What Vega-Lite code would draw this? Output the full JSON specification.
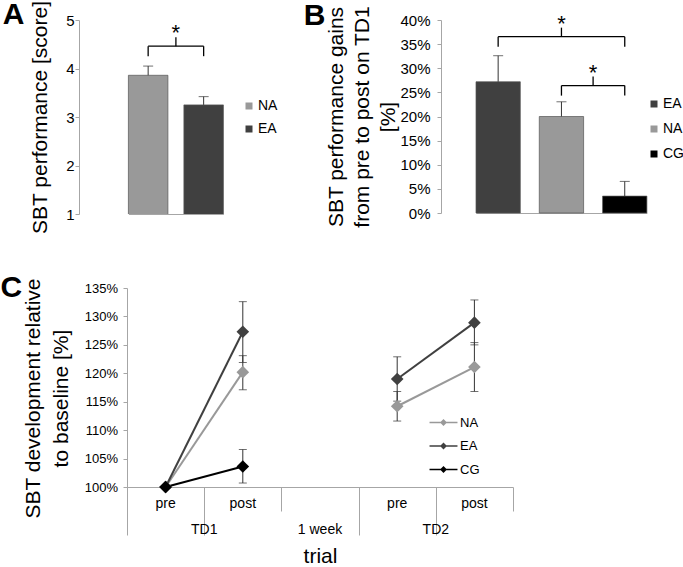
{
  "$schema": "https://vega.github.io/schema/vega-lite/v6.json",
  "background": "white",
  "padding": {"left": 0, "top": 0, "right": 0, "bottom": 0},
  "config": {
    "font": "Liberation Sans",
    "view": {"stroke": null},
    "axis": {"grid": false, "domainColor": "#a6a6a6", "tickColor": "#a6a6a6", "labelColor": "#000000", "titleColor": "#000000", "labelFont": "Liberation Sans", "titleFont": "Liberation Sans", "titleFontWeight": "normal"},
    "legend": {"labelFont": "Liberation Sans", "labelColor": "#000000", "padding": 0},
    "title": {"font": "Liberation Sans", "fontWeight": "bold", "fontSize": 30, "color": "#000000"},
    "text": {"font": "Liberation Sans"}
  },
  "datasets": {
    "scores": [
      {"group": "NA", "score": 3.86, "upper": 4.05},
      {"group": "EA", "score": 3.25, "upper": 3.42}
    ],
    "scoreSig": [
      {"id": "NA-EA", "from": "NA", "to": "EA", "y": 4.46, "label": "*"}
    ],
    "gains": [
      {"group": "EA", "gain": 27.2, "upper": 32.6},
      {"group": "NA", "gain": 20.0, "upper": 23.05},
      {"group": "CG", "gain": 3.5, "upper": 6.55}
    ],
    "gainSig": [
      {"id": "EA-CG", "from": "EA", "to": "CG", "y": 36.55, "label": "*"},
      {"id": "NA-CG", "from": "NA", "to": "CG", "y": 26.4, "label": "*"}
    ],
    "development": [
      {"group": "NA", "day": "TD1", "trial": "TD1 pre", "value": 100.0, "lower": null, "upper": null},
      {"group": "NA", "day": "TD1", "trial": "TD1 post", "value": 120.2, "lower": 117.1, "upper": 123.1},
      {"group": "NA", "day": "TD2", "trial": "TD2 pre", "value": 114.2, "lower": 111.6, "upper": 116.8},
      {"group": "NA", "day": "TD2", "trial": "TD2 post", "value": 121.1, "lower": 116.8, "upper": 125.4},
      {"group": "EA", "day": "TD1", "trial": "TD1 pre", "value": 100.0, "lower": null, "upper": null},
      {"group": "EA", "day": "TD1", "trial": "TD1 post", "value": 127.3, "lower": 121.9, "upper": 132.6},
      {"group": "EA", "day": "TD2", "trial": "TD2 pre", "value": 119.0, "lower": 115.1, "upper": 122.9},
      {"group": "EA", "day": "TD2", "trial": "TD2 post", "value": 128.9, "lower": 125.0, "upper": 132.9},
      {"group": "CG", "day": "TD1", "trial": "TD1 pre", "value": 100.0, "lower": null, "upper": null},
      {"group": "CG", "day": "TD1", "trial": "TD1 post", "value": 103.6, "lower": 100.7, "upper": 106.6}
    ]
  },
  "spacing": 38,
  "resolve": {"scale": {"x": "independent", "y": "independent", "color": "independent", "fill": "independent", "stroke": "independent"}, "legend": {"color": "independent", "fill": "independent"}},
  "vconcat": [
    {
      "spacing": 25,
      "resolve": {"scale": {"x": "independent", "y": "independent", "color": "independent"}, "legend": {"color": "independent"}},
      "hconcat": [
        {
          "width": 190,
          "height": 194,
          "title": {"text": "A", "orient": "left", "anchor": "end", "angle": 0, "align": "right", "baseline": "top", "frame": "bounds", "offset": -17},
          "resolve": {"axis": {"x": "independent", "y": "independent"}},
          "layer": [
            {
              "data": {"name": "scores"},
              "mark": {"type": "bar", "stroke": "#555555", "strokeWidth": 0.7, "clip": true},
              "encoding": {
                "x": {"field": "group", "type": "nominal", "scale": {"domain": ["NA", "EA"], "range": [49.4, 144.4], "paddingInner": 0.288, "paddingOuter": 0}, "axis": {"title": null, "labels": false, "ticks": false}},
                "y": {"field": "score", "type": "quantitative", "scale": {"domain": [1, 5], "nice": false, "zero": false}, "axis": {"title": "SBT performance [score]", "values": [1, 2, 3, 4, 5], "tickSize": 4, "labelPadding": 1, "labelFontSize": 15, "titleFontSize": 21, "titlePadding": 15.5}},
                "color": {"field": "group", "type": "nominal", "scale": {"domain": ["NA", "EA"], "range": ["#999999", "#404040"]}, "legend": {"title": null, "orient": "none", "legendX": 163, "legendY": 79, "symbolType": "square", "symbolSize": 49, "symbolStrokeWidth": 0, "labelFontSize": 14, "labelOffset": 2, "rowPadding": 9}}
              }
            },
            {
              "data": {"name": "scores"},
              "mark": {"type": "rule", "color": "#333333", "strokeWidth": 1},
              "encoding": {
                "x": {"field": "group", "type": "nominal", "axis": null},
                "y": {"field": "score", "type": "quantitative", "axis": null},
                "y2": {"field": "upper"}
              }
            },
            {
              "data": {"name": "scores"},
              "mark": {"type": "tick", "color": "#333333", "size": 10, "thickness": 1},
              "encoding": {
                "x": {"field": "group", "type": "nominal", "axis": null},
                "y": {"field": "upper", "type": "quantitative", "axis": null}
              }
            },
            {
              "data": {"name": "scoreSig"},
              "mark": {"type": "rule", "color": "#000000", "strokeWidth": 1.3},
              "encoding": {
                "x": {"field": "from", "type": "nominal", "axis": null},
                "x2": {"field": "to"},
                "y": {"field": "y", "type": "quantitative", "axis": null}
              }
            },
            {
              "data": {"name": "scoreSig"},
              "mark": {"type": "rule", "color": "#000000", "strokeWidth": 1.3, "y2Offset": 10},
              "encoding": {
                "x": {"field": "from", "type": "nominal", "axis": null},
                "y": {"field": "y", "type": "quantitative", "axis": null},
                "y2": {"field": "y"}
              }
            },
            {
              "data": {"name": "scoreSig"},
              "mark": {"type": "rule", "color": "#000000", "strokeWidth": 1.3, "y2Offset": 10},
              "encoding": {
                "x": {"field": "to", "type": "nominal", "axis": null},
                "y": {"field": "y", "type": "quantitative", "axis": null},
                "y2": {"field": "y"}
              }
            },
            {
              "data": {"name": "scoreSig"},
              "mark": {"type": "rule", "color": "#000000", "strokeWidth": 1.3, "xOffset": 27.75, "y2Offset": -9},
              "encoding": {
                "x": {"field": "from", "type": "nominal", "axis": null},
                "y": {"field": "y", "type": "quantitative", "axis": null},
                "y2": {"field": "y"}
              }
            },
            {
              "data": {"name": "scoreSig"},
              "mark": {"type": "text", "fontSize": 22, "baseline": "alphabetic", "xOffset": 27.75, "dy": -6, "color": "#000000"},
              "encoding": {
                "x": {"field": "from", "type": "nominal", "axis": null},
                "y": {"field": "y", "type": "quantitative", "axis": null},
                "text": {"field": "label"}
              }
            }
          ]
        },
        {
          "width": 233,
          "height": 193,
          "title": {"text": "B", "orient": "left", "anchor": "end", "angle": 0, "align": "right", "baseline": "top", "frame": "bounds", "offset": -21, "dy": -5},
          "resolve": {"axis": {"x": "independent", "y": "independent"}},
          "layer": [
            {
              "data": {"name": "gains"},
              "mark": {"type": "bar", "stroke": "#555555", "strokeWidth": 0.7},
              "encoding": {
                "x": {"field": "group", "type": "nominal", "scale": {"domain": ["EA", "NA", "CG"], "range": [35, 205.9], "paddingInner": 0.3, "paddingOuter": 0}, "axis": {"title": null, "labels": false, "ticks": false}},
                "y": {"field": "gain", "type": "quantitative", "scale": {"domain": [0, 40], "nice": false}, "axis": {"title": ["SBT performance gains", "from pre to post on TD1", "[%]"], "values": [0, 5, 10, 15, 20, 25, 30, 35, 40], "labelExpr": "datum.value + '%'", "tickSize": 4, "labelPadding": 7, "labelFontSize": 15, "titleFontSize": 21, "titleLineHeight": 26, "titlePadding": 1}},
                "color": {"field": "group", "type": "nominal", "scale": {"domain": ["EA", "NA", "CG"], "range": ["#404040", "#999999", "#000000"]}, "legend": {"title": null, "orient": "none", "legendX": 206, "legendY": 77, "symbolType": "square", "symbolSize": 49, "symbolStrokeWidth": 0, "labelFontSize": 14, "labelOffset": 2, "rowPadding": 11}}
              }
            },
            {
              "data": {"name": "gains"},
              "mark": {"type": "rule", "color": "#333333", "strokeWidth": 1},
              "encoding": {
                "x": {"field": "group", "type": "nominal", "axis": null},
                "y": {"field": "gain", "type": "quantitative", "axis": null},
                "y2": {"field": "upper"}
              }
            },
            {
              "data": {"name": "gains"},
              "mark": {"type": "tick", "color": "#333333", "size": 10, "thickness": 1},
              "encoding": {
                "x": {"field": "group", "type": "nominal", "axis": null},
                "y": {"field": "upper", "type": "quantitative", "axis": null}
              }
            },
            {
              "data": {"name": "gainSig"},
              "mark": {"type": "rule", "color": "#000000", "strokeWidth": 1.3},
              "encoding": {
                "x": {"field": "from", "type": "nominal", "axis": null},
                "x2": {"field": "to"},
                "y": {"field": "y", "type": "quantitative", "axis": null}
              }
            },
            {
              "data": {"name": "gainSig"},
              "mark": {"type": "rule", "color": "#000000", "strokeWidth": 1.3, "y2Offset": 10},
              "encoding": {
                "x": {"field": "from", "type": "nominal", "axis": null},
                "y": {"field": "y", "type": "quantitative", "axis": null},
                "y2": {"field": "y"}
              }
            },
            {
              "data": {"name": "gainSig"},
              "mark": {"type": "rule", "color": "#000000", "strokeWidth": 1.3, "y2Offset": 10},
              "encoding": {
                "x": {"field": "to", "type": "nominal", "axis": null},
                "y": {"field": "y", "type": "quantitative", "axis": null},
                "y2": {"field": "y"}
              }
            },
            {
              "data": {"name": "gainSig"},
              "transform": [{"filter": "datum.id == 'EA-CG'"}],
              "mark": {"type": "rule", "color": "#000000", "strokeWidth": 1.3, "xOffset": 63.3, "y2Offset": -9},
              "encoding": {
                "x": {"field": "from", "type": "nominal", "axis": null},
                "y": {"field": "y", "type": "quantitative", "axis": null},
                "y2": {"field": "y"}
              }
            },
            {
              "data": {"name": "gainSig"},
              "transform": [{"filter": "datum.id == 'EA-CG'"}],
              "mark": {"type": "text", "fontSize": 22, "baseline": "alphabetic", "xOffset": 63.3, "dy": -6, "color": "#000000"},
              "encoding": {
                "x": {"field": "from", "type": "nominal", "axis": null},
                "y": {"field": "y", "type": "quantitative", "axis": null},
                "text": {"field": "label"}
              }
            },
            {
              "data": {"name": "gainSig"},
              "transform": [{"filter": "datum.id == 'NA-CG'"}],
              "mark": {"type": "rule", "color": "#000000", "strokeWidth": 1.3, "xOffset": 31.65, "y2Offset": -9},
              "encoding": {
                "x": {"field": "from", "type": "nominal", "axis": null},
                "y": {"field": "y", "type": "quantitative", "axis": null},
                "y2": {"field": "y"}
              }
            },
            {
              "data": {"name": "gainSig"},
              "transform": [{"filter": "datum.id == 'NA-CG'"}],
              "mark": {"type": "text", "fontSize": 22, "baseline": "alphabetic", "xOffset": 31.65, "dy": -6, "color": "#000000"},
              "encoding": {
                "x": {"field": "from", "type": "nominal", "axis": null},
                "y": {"field": "y", "type": "quantitative", "axis": null},
                "text": {"field": "label"}
              }
            }
          ]
        }
      ]
    },
    {
      "width": 434,
      "height": 199,
      "title": {"text": "C", "orient": "left", "anchor": "end", "angle": 0, "align": "right", "baseline": "top", "frame": "bounds", "offset": -21, "dy": -5},
      "data": {"name": "development"},
      "resolve": {"axis": {"x": "independent", "y": "independent"}},
      "layer": [
        {
          "transform": [{"filter": "isValid(datum.upper)"}],
          "mark": {"type": "rule", "color": "#333333", "strokeWidth": 1},
          "encoding": {
            "x": {"field": "trial", "type": "nominal", "scale": {"domain": ["TD1 pre", "TD1 post", "1 week", "TD2 pre", "TD2 post"], "range": [48, 434], "paddingInner": 0, "paddingOuter": 0}, "axis": {"orient": "bottom", "title": null, "ticks": false, "labelExpr": "datum.value == '1 week' ? '' : (indexof(datum.value, 'pre') >= 0 ? 'pre' : 'post')", "labelPadding": 9, "labelFontSize": 14, "labelAngle": 0}},
            "y": {"field": "lower", "type": "quantitative", "scale": {"domain": [100, 135], "nice": false, "zero": false}, "axis": {"offset": -48, "title": ["SBT development relative", "to baseline [%]"], "titleY": 110, "values": [100, 105, 110, 115, 120, 125, 130, 135], "labelExpr": "datum.value + '%'", "tickSize": 4, "labelPadding": 5.5, "labelFontSize": 13, "titleFontSize": 21, "titleLineHeight": 28, "titlePadding": 12.5}},
            "y2": {"field": "upper"}
          }
        },
        {
          "transform": [{"filter": "isValid(datum.upper)"}],
          "mark": {"type": "tick", "color": "#333333", "size": 8, "thickness": 1},
          "encoding": {
            "x": {"field": "trial", "type": "nominal", "axis": {"orient": "bottom", "title": null, "labels": false, "domain": false, "tickBand": "extent", "tickSize": 24, "tickColor": "#a6a6a6"}},
            "y": {"field": "lower", "type": "quantitative", "axis": null}
          }
        },
        {
          "transform": [{"filter": "isValid(datum.upper)"}],
          "mark": {"type": "tick", "color": "#333333", "size": 8, "thickness": 1},
          "encoding": {
            "x": {"field": "trial", "type": "nominal", "axis": {"orient": "bottom", "title": null, "labels": false, "domain": false, "tickBand": "extent", "tickSize": 48, "tickColor": "#a6a6a6", "tickOpacity": {"condition": {"test": "datum.value == 'TD1 post' || datum.value == 'TD2 post'", "value": 0}, "value": 1}}},
            "y": {"field": "upper", "type": "quantitative", "axis": null}
          }
        },
        {
          "mark": {"type": "line", "strokeWidth": 2},
          "encoding": {
            "x": {"field": "trial", "type": "nominal", "axis": null},
            "y": {"field": "value", "type": "quantitative", "axis": null},
            "detail": {"field": "day"},
            "stroke": {"field": "group", "type": "nominal", "scale": {"domain": ["CG", "EA", "NA"], "range": ["#000000", "#404040", "#999999"]}, "legend": null}
          }
        },
        {
          "mark": {"type": "point", "shape": "diamond", "filled": true, "size": 160, "opacity": 1},
          "encoding": {
            "x": {"field": "trial", "type": "nominal", "axis": {"orient": "bottom", "title": "trial", "ticks": false, "domain": false, "values": ["TD1 post", "1 week", "TD2 post"], "labelExpr": "datum.value == 'TD1 post' ? 'TD1' : (datum.value == 'TD2 post' ? 'TD2' : '1 week')", "labelOffset": {"condition": {"test": "datum.value == '1 week'", "value": 0}, "value": -38.6}, "labelPadding": 35, "labelFontSize": 14, "labelAngle": 0, "titleFontSize": 21, "titlePadding": 9}},
            "y": {"field": "value", "type": "quantitative", "axis": null},
            "fill": {"field": "group", "type": "nominal", "scale": {"domain": ["NA", "EA", "CG"], "range": ["#999999", "#404040", "#000000"]}, "legend": {"title": null, "orient": "none", "legendX": 358, "legendY": 128, "symbolType": "M-2.21,-0.12L2.21,-0.12L2.21,0.12L-2.21,0.12Z M-0.55,0L0,-0.55L0.55,0L0,0.55Z", "symbolSize": 160, "symbolStrokeWidth": 0, "labelFontSize": 13, "labelOffset": 10, "rowPadding": 9.5}}
          }
        }
      ]
    }
  ]
}
